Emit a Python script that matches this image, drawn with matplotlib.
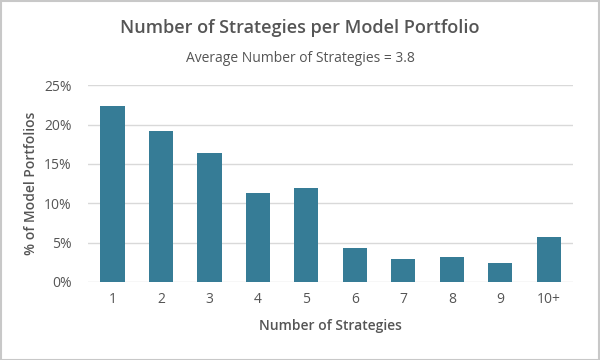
import matplotlib
matplotlib.use("Agg")
import matplotlib.pyplot as plt
from matplotlib.ticker import FuncFormatter

categories = ["1", "2", "3", "4", "5", "6", "7", "8", "9", "10+"]
values = [22.4, 19.2, 16.4, 11.3, 11.9, 4.3, 2.9, 3.2, 2.4, 5.7]
yticks = [0, 5, 10, 15, 20, 25]

plt.rcParams['font.family'] = ['Open Sans', 'DejaVu Sans']
txt = '#555555'

fig = plt.figure(figsize=(6, 3.6), dpi=100)
ax = fig.add_axes([0.147, 0.217, 0.808, 0.546])
x = list(range(len(categories)))
ax.bar(x, values, width=0.5, color='#367c96', zorder=3)
ax.set_xlim(-0.5, len(categories) - 0.5)
ax.set_ylim(0, 25)
ax.set_yticks(yticks)
ax.yaxis.set_major_formatter(FuncFormatter(lambda v, p: f"{v:.0f}%"))
ax.set_xticks(x)
ax.set_xticklabels(categories)
ax.grid(axis='y', color='#d9d9d9', linewidth=1, zorder=0)
for s in ax.spines.values():
    s.set_visible(False)
ax.tick_params(axis='both', length=0, labelsize=10, labelcolor=txt, pad=7)
ax.tick_params(axis='y', pad=12)
ax.set_xlabel("Number of Strategies", fontsize=10, color=txt, fontweight='semibold', labelpad=9)
ax.set_ylabel("% of Model Portfolios", fontsize=10, color=txt, fontweight='semibold', labelpad=4)

fig.text(0.5, 0.922, "Number of Strategies per Model Portfolio", ha='center', va='center',
         fontsize=13, color=txt, fontweight='semibold')
fig.text(0.5, 0.838, "Average Number of Strategies = 3.8", ha='center', va='center',
         fontsize=10, color=txt)

border = plt.Rectangle((0.001, 0.001), 0.997, 0.996, transform=fig.transFigure,
                       fill=False, edgecolor='#c8c8c8', linewidth=1.5)
fig.patches.append(border)

fig.savefig("out.png", dpi=100)
